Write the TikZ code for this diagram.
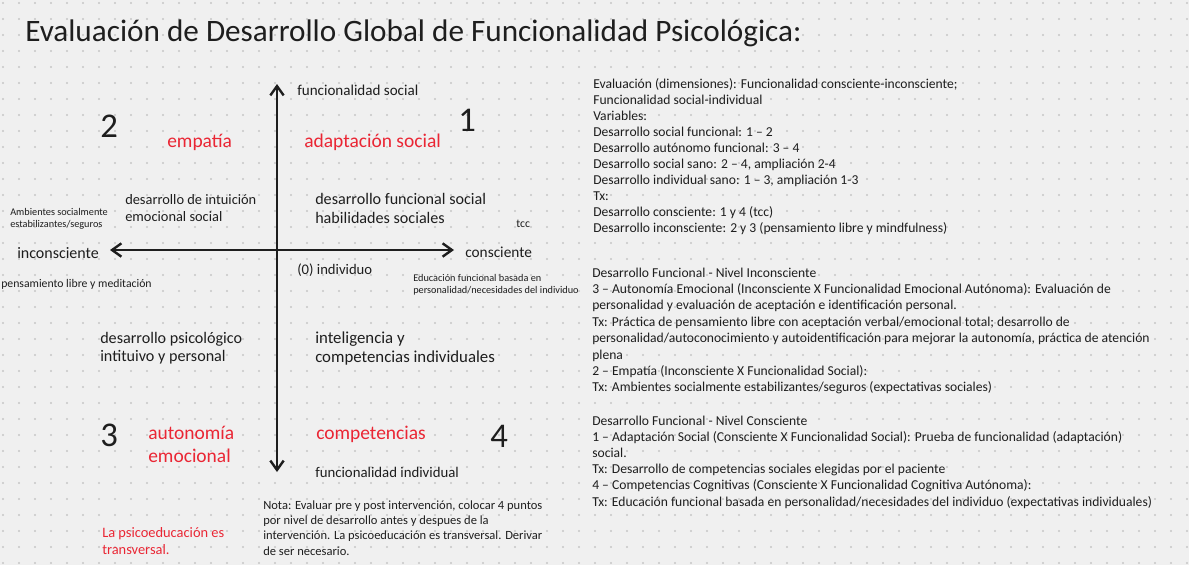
\documentclass[tikz,border=0pt]{standalone}
\usepackage{fontspec}
\setmainfont{Carlito}
\usetikzlibrary{arrows.meta}
\definecolor{ink}{RGB}{30,30,30}
\definecolor{accent}{RGB}{234,38,52}
\definecolor{paper}{RGB}{240,240,240}
\definecolor{dotgrid}{RGB}{198,198,198}
\newcommand{\fsz}[1]{\fontsize{#1}{#1}\selectfont}
\tikzset{axis/.style={{Straight Barb[length=7pt,width=10pt]}-{Straight Barb[length=7pt,width=10pt]},line width=1.8pt,draw=ink},
 lbl/.style={anchor=base west,inner sep=0pt,text=ink,font=\fsz{#1}},
 hot/.style={lbl=#1,text=accent}}

\begin{document}
\begin{tikzpicture}[x=0.75pt,y=-0.75pt]
\fill[paper] (0,0) rectangle (1189,565);
\useasboundingbox (0,0) rectangle (1189,565);
\foreach \i in {0,...,74} \foreach \j in {0,...,35}
 \fill[dotgrid] (3+16*\i,3+16*\j) circle (0.9pt);

\node[lbl=23.4] (title) at (25,41) {Evaluación de Desarrollo Global de Funcionalidad Psicológica:};

% ejes
\coordinate (ntop) at (277,84);
\coordinate (nbot) at (277,472);
\coordinate (wend) at (110,250);
\coordinate (eend) at (454,250);
\draw[axis] (nbot) -- (ntop);
\draw[axis] (wend) -- (eend);

\node[lbl=11.3] (fsoc) at (297,95) {funcionalidad social};
\node[lbl=11.1] (find) at (315,477) {funcionalidad individual};
\node[lbl=12] (incon) at (17,258) {inconsciente};
\node[lbl=11.5] (con) at (465,257) {consciente};
\node[lbl=11] (cero) at (297,274) {(0) individuo};

% cuadrantes
\node[lbl=26] (q1) at (458,131) {1};
\node[lbl=26] (q2) at (100,137) {2};
\node[lbl=26] (q3) at (100,446) {3};
\node[lbl=26] (q4) at (490,447) {4};
\node[hot=14.6] (emp) at (167,147) {empatía};
\node[hot=14.6] (adap) at (304,147) {adaptación social};
\node[hot=14.6] (auto1) at (148,439) {autonomía};
\node[hot=14.6] (auto2) at (148,462) {emocional};
\node[hot=14.6] (comp) at (316,439) {competencias};

\node[lbl=10.8] (intu1) at (125,204) {desarrollo de intuición};
\node[lbl=10.8] (intu2) at (125,221) {emocional social};
\node[lbl=12.1] (dfs1) at (315,204) {desarrollo funcional social};
\node[lbl=12.1] (dfs2) at (315,223) {habilidades sociales};
\node[lbl=12.1] (psi1) at (100,343) {desarrollo psicológico};
\node[lbl=12.1] (psi2) at (100,361) {intituivo y personal};
\node[lbl=12.6] (intl1) at (315,343) {inteligencia y};
\node[lbl=12.6] (intl2) at (315,362) {competencias individuales};

\node[lbl=7.7] (amb1) at (10,215) {Ambientes socialmente};
\node[lbl=7.7] (amb2) at (10,227) {estabilizantes/seguros};
\node[lbl=8.8] (tcc) at (516,227) {tcc};
\node[lbl=7.7] (edu1) at (413,281) {Educación funcional basada en};
\node[lbl=7.7] (edu2) at (413,293) {personalidad/necesidades del individuo};
\node[lbl=8.8] (pens) at (1,287) {pensamiento libre y meditación};

% notas
\foreach \t [count=\k from 0] in {{Nota: Evaluar pre y post intervención, colocar 4 puntos},{por nivel de desarrollo antes y despues de la},{intervención. La psicoeducación es transversal. Derivar},{de ser necesario.}}
 \node[lbl=9.4] (nota\k) at (263,{509+15.4*\k}) {\t};
\node[hot=10.8] (trans1) at (102,537) {La psicoeducación es};
\node[hot=10.8] (trans2) at (102,554) {transversal.};

% bloques de texto
\foreach \t [count=\k from 0] in {{Evaluación (dimensiones): Funcionalidad consciente-inconsciente;},{Funcionalidad social-individual},{Variables:},{Desarrollo social funcional: 1 – 2},{Desarrollo autónomo funcional: 3 – 4},{Desarrollo social sano: 2 – 4, ampliación 2-4},{Desarrollo individual sano: 1 – 3, ampliación 1-3},{Tx:},{Desarrollo consciente: 1 y 4 (tcc)},{Desarrollo inconsciente: 2 y 3 (pensamiento libre y mindfulness)}}
 \node[lbl=10.2] (eval\k) at (593,{88+16*\k}) {\t};
\foreach \t [count=\k from 0] in {{Desarrollo Funcional - Nivel Inconsciente},{3 – Autonomía Emocional (Inconsciente X Funcionalidad Emocional Autónoma): Evaluación de},{personalidad y evaluación de aceptación e identificación personal.},{Tx: Práctica de pensamiento libre con aceptación verbal/emocional total; desarrollo de},{personalidad/autoconocimiento y autoidentificación para mejorar la autonomía, práctica de atención},{plena},{2 – Empatía (Inconsciente X Funcionalidad Social):},{Tx: Ambientes socialmente estabilizantes/seguros (expectativas sociales)}}
 \node[lbl=10.2] (inc\k) at (592,{277+16.4*\k}) {\t};
\foreach \t [count=\k from 0] in {{Desarrollo Funcional - Nivel Consciente},{1 – Adaptación Social (Consciente X Funcionalidad Social): Prueba de funcionalidad (adaptación)},{social.},{Tx: Desarrollo de competencias sociales elegidas por el paciente},{4 – Competencias Cognitivas (Consciente X Funcionalidad Cognitiva Autónoma):},{Tx: Educación funcional basada en personalidad/necesidades del individuo (expectativas individuales)}}
 \node[lbl=10.2] (cons\k) at (592,{425+16.2*\k}) {\t};
\end{tikzpicture}
\end{document}
